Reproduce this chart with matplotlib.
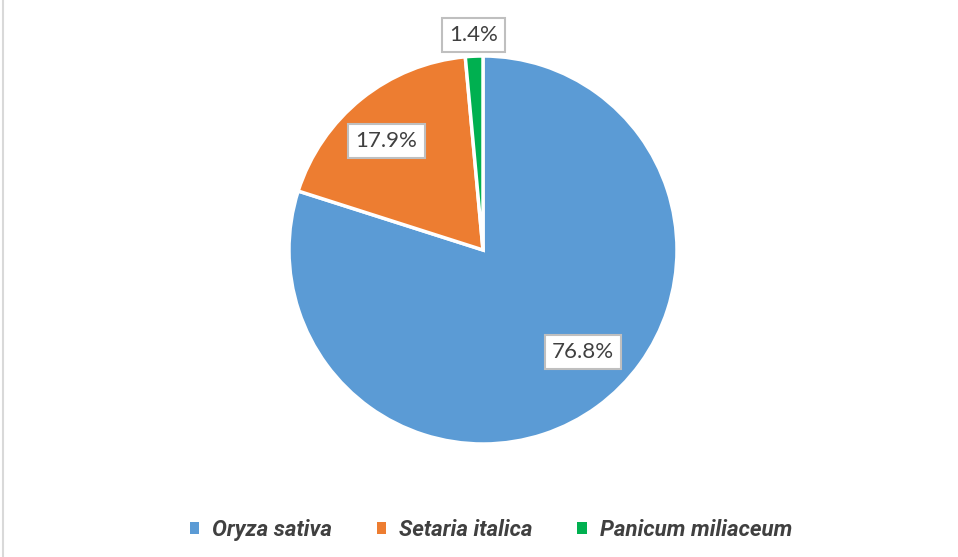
import matplotlib
matplotlib.use("Agg")
import matplotlib.pyplot as plt
import numpy as np
from matplotlib.lines import Line2D
from matplotlib.patches import Patch

categories = ["Oryza sativa", "Setaria italica", "Panicum miliaceum"]
values = [76.8, 17.9, 1.4]
value_labels = ["76.8%", "17.9%", "1.4%"]

colors = ["#5B9BD5", "#ED7D31", "#00B050"]
label_dist = [0.737, 0.75, 1.109]
label_ang_offset = [8.2, 2.8, 0.0]
text_color = "#404040"

W, H = 958, 557
fig = plt.figure(figsize=(W / 100, H / 100), dpi=100)
cx, cy, r = 483, 250, 194
ax = fig.add_axes([(cx - r) / W, (H - cy - r) / H, 2 * r / W, 2 * r / H])
wedges, _ = ax.pie(values, colors=colors, startangle=90, counterclock=False,
                   radius=1, wedgeprops=dict(edgecolor="white", linewidth=2.5))
ax.set_xlim(-1, 1)
ax.set_ylim(-1, 1)
ax.set_aspect("equal")
ax.axis("off")

for w, lab, d, off in zip(wedges, value_labels, label_dist, label_ang_offset):
    ang = np.deg2rad((w.theta1 + w.theta2) / 2 + off)
    ax.text(d * np.cos(ang), d * np.sin(ang), lab, ha="center", va="center",
            fontsize=16, family=["Lato", "DejaVu Sans"], color=text_color,
            bbox=dict(boxstyle="square,pad=0.32", fc="white", ec="#BFBFBF", lw=1.5),
            clip_on=False)

handles = [Patch(facecolor=c, edgecolor="none") for c in colors]
fig.legend(handles, categories, loc="center", bbox_to_anchor=(491 / W, 1 - 530 / H),
           ncol=3, frameon=False, handlelength=0.42, handleheight=0.42,
           handletextpad=0.6, columnspacing=2.0,
           prop=dict(family=["Roboto", "DejaVu Sans"], style="italic", weight="bold", size=16),
           labelcolor=text_color)

fig.add_artist(Line2D([3 / W, 3 / W], [0, 1], transform=fig.transFigure,
                      color="#D9D9D9", lw=1.5))

fig.savefig("out.png", dpi=100, facecolor="white")
